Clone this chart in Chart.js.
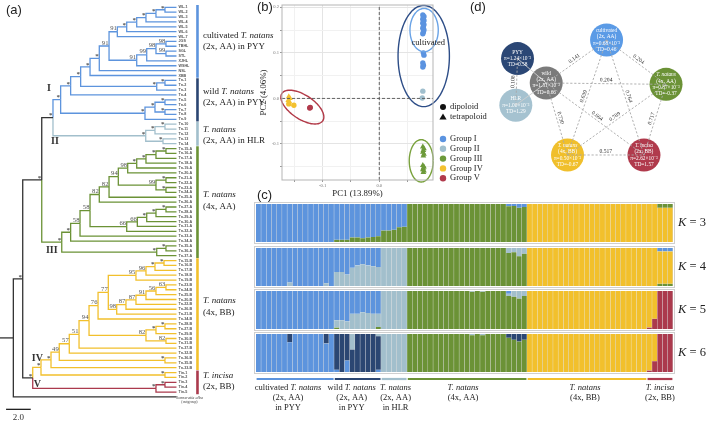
<!DOCTYPE html>
<html>
<head>
<meta charset="utf-8">
<title>Trapa population structure</title>
<script src="https://cdn.jsdelivr.net/npm/chart.js@4.4.1/dist/chart.umd.min.js"></script>
<style>
  html, body { margin: 0; padding: 0; background: #fff; }
  body { width: 709px; height: 422px; position: relative; overflow: hidden; }
  canvas { position: absolute; }
  .tag { position: absolute; font: 13px "Liberation Sans", Arial, sans-serif; color: #222; }
</style>
</head>
<body>
<canvas id="treeChart" width="275" height="422" style="left:0px;top:0px"></canvas>
<canvas id="k3Chart" width="455" height="42" style="left:254px;top:202px"></canvas>
<canvas id="k4Chart" width="455" height="42" style="left:254px;top:246px"></canvas>
<canvas id="k5Chart" width="455" height="42" style="left:254px;top:289px"></canvas>
<canvas id="k6Chart" width="455" height="90" style="left:254px;top:332px"></canvas>
<canvas id="pcaChart" width="242" height="200" style="left:258px;top:0px"></canvas>
<canvas id="netChart" width="239" height="195" style="left:470px;top:0px"></canvas>
<div class="tag" style="left:6px;top:2px">(a)</div>
<div class="tag" style="left:257px;top:-1px">(b)</div>
<div class="tag" style="left:257px;top:187px">(c)</div>
<div class="tag" style="left:470px;top:-1px">(d)</div>
<script>
Chart.defaults.font.family = "'Liberation Serif', 'Times New Roman', serif";
Chart.defaults.color = "#333";

const BLUE = "#5d94dd", LBLUE = "#a2bfcc", GREEN = "#6b9236", YELLOW = "#f2c02c", RED = "#ab3a4d", NAVY = "#2b4672";
const SERIF = "'Liberation Serif', 'Times New Roman', serif";

/* ========= populations (shared by tree brackets and structure plot) ========= */
const popFirst = [0, 15, 24, 29, 52, 75];
const popLast = [14, 23, 28, 51, 74, 79];
const popColor = [BLUE, NAVY, LBLUE, GREEN, YELLOW, RED];
const popTreeLine1 = ["cultivated _T. natans_", "wild _T. natans_", "_T. natans_", "_T. natans_", "_T. natans_", "_T. incisa_"];
const popTreeLine2 = ["(2x, AA) in PYY", "(2x, AA) in PYY", "(2x, AA) in HLR", "(4x, AA)", "(4x, BB)", "(2x, BB)"];
const popStructLabels = [
  ["cultivated _T. natans_", "(2x, AA)", "in PYY"],
  ["wild _T. natans_", "(2x, AA)", "in PYY"],
  ["_T. natans_", "(2x, AA)", "in HLR"],
  ["_T. natans_", "(4x, AA)"],
  ["_T. natans_", "(4x, BB)"],
  ["_T. incisa_", "(2x, BB)"]
];

/* ========= (a) tree: newick with node depth and support ========= */
const treeTipDepth = 14.29;
const cultNwk = "((((((WL-1,WL-2)*:13.36,WL-3)*:12.63,WL-4)*:11.82,WL-5)*:11.07,WL-6)*:10.26,WL-7)91:9.5";
const cultNwk2 = "((((JGS,TBHL)98:13.44,(SGL,STL)99:13.44)98:12.63,XJHL)99:11.88,WSHL)91:11.07";
const cladeINwk = "((((((" + cultNwk + "," + cultNwk2 + ")91:8.83,NSL)*:8.04,XBB)*:7.29,((Tn-1,Tn-2)*:13.36,Tn-3)*:12.69)*:6.53,Tn-4)*:5.72,(((Tn-5,Tn-6)*:13.36,(Tn-7,Tn-8)*:13.36)*:12.55,Tn-9)*:11.74)*:4.91";
const cladeIINwk = "(((Tn-10,Tn-11)*:13.36,Tn-12)*:12.55,(Tn-13,Tn-14)*:13.2)*:11.8";
const aaNwk1 = "(((((Tn-15-A,Tn-16-A)*:13.44,Tn-17-A)*:12.63,Tn-18-A)*:11.82,Tn-19-A)*:11.07,Tn-20-A)98:10.34";
const aaNwk2 = "((Tn-21-A,Tn-22-A)*:13.44,(Tn-23-A,Tn-24-A)*:13.44)99:12.63";
const aaNwk3 = "(((((Tn-27-A,Tn-28-A)*:13.44,Tn-29-A)*:12.63,Tn-30-A)*:11.88,Tn-31-A)66:11.12,Tn-32-A)66:10.26";
const cladeIIINwk = "(((((((" + aaNwk1 + "," + aaNwk2 + ")94:9.58,Tn-25-A)82:8.83,Tn-26-A)82:8.04," + aaNwk3 + ")58:7.29,Tn-33-A)58:6.48,Tn-34-A)*:5.72,((Tn-35-A,Tn-36-A)*:13.44,Tn-37-A)*:12.69)*:5.0";
const bbNwk1 = "((((Tn-15-B,Tn-16-B)*:13.28,Tn-17-B)*:12.55,Tn-18-B)96:11.82,Tn-19-B)95:11.01";
const bbNwk2 = "((((((Tn-23-B,Tn-24-B)63:13.44,Tn-25-B)56:12.63,Tn-20-B)91:11.82,Tn-22-B)87:11.01,Tn-26-B)87:10.2,Tn-21-B)98:9.45";
const bbNwk3 = "(((Tn-28-B,Tn-27-B)*:13.36,Tn-29-B)*:12.63,(Tn-30-B,Tn-31-B)82:13.44)82:11.82";
const cladeIVNwk = "((((((((" + bbNwk1 + "," + bbNwk2 + ")77:8.77,Tn-34-B)76:7.94," + bbNwk3 + ")94:7.21,Tn-37-B)51:6.4,Tn-32-B)57:5.61,(Tn-36-B,Tn-35-B)*:13.36)49:4.8,Tn-33-B)*:4.13,(Tin-1,Tin-2)*:13.36)*:3.32";
const cladeVNwk = "((Tin-3,Tin-4)*:13.36,Tin-5)*:12.63";
const treeNwk = "((((" + cladeINwk + "," + cladeIINwk + ")*:4.29," + cladeIIINwk + ")*:3.38,(" + cladeIVNwk + "," + cladeVNwk + ")*:2.65)*:1.84,Sonneratia alba):1.08";

const cladeNames = ["I", "II", "III", "IV", "V"];
const cladeFirst = [0, 24, 29, 52, 77];
const cladeLast = [23, 28, 51, 76, 79];
const cladeColor = [BLUE, LBLUE, GREEN, YELLOW, RED];
const scaleBarLen = 2.0;

/* ========= (b) PCA ========= */
const pcaIX = [0.077, 0.079, 0.078, 0.077, 0.079, 0.078, 0.077, 0.079, 0.078, 0.077, 0.079, 0.078, 0.077, 0.078, 0.079, 0.077, 0.078, 0.077];
const pcaIY = [0.183, 0.180, 0.177, 0.174, 0.171, 0.168, 0.165, 0.162, 0.158, 0.154, 0.150, 0.146, 0.142, 0.100, 0.095, 0.078, 0.073, 0.069];
const pcaIIX = [0.077, 0.076];
const pcaIIY = [0.016, 0.001];
const pcaIIIX = [0.077, 0.079, 0.078, 0.077, 0.079, 0.078, 0.077, 0.079, 0.078, 0.077, 0.079, 0.078];
const pcaIIIY = [-0.106, -0.110, -0.114, -0.118, -0.122, -0.126, -0.147, -0.150, -0.153, -0.156, -0.159, -0.162];
const pcaIVTriX = [-0.160, -0.158, -0.161, -0.159];
const pcaIVTriY = [0.004, 0.000, -0.004, -0.007];
const pcaIVDotX = [-0.160, -0.151];
const pcaIVDotY = [-0.012, -0.015];
const pcaVX = [-0.122, -0.123];
const pcaVY = [-0.020, -0.021];
const pcaGroupColor = ["#5b93e0", "#a0bfce", "#6d9a3a", "#f3c12f", "#b13a4c"];
const pcaGroupNames = ["Group I", "Group II", "Group III", "Group IV", "Group V"];
// confidence ellipses: centre, half widths, tilt
const ellCX = [-0.136, 0.0786, 0.0793, 0.0742];
const ellCY = [-0.019, 0.093, 0.150, -0.137];
const ellRX = [0.038, 0.0454, 0.025, 0.0212];
const ellRY = [0.030, 0.111, 0.0475, 0.0465];
const ellTilt = [-0.573, 0, 0, 0];
const ellColor = ["#b23a48", "#2d4d87", "#6aa3e6", "#7aa23e"];

/* ========= (c) STRUCTURE (% ancestry per individual) ========= */
// K = 3, bottom -> top: yellow, green, blue
const k3Yellow = [0,0,0,0,0, 0,0,0,0,0, 0,0,0,0,0,  0,0,0,0,0, 0,0,0,0,  0,0,0,0,0,
  0,0,0,0,0, 0,0,0,0,0, 0,0,0,0,0, 0,0,0,0,0, 0,0,0,
  100,100,100,100,100, 100,100,100,100,100, 100,100,100,100,100, 100,100,100,100,100, 100,100,100,
  100,100,90,90,90];
const k3Green = [0,0,0,0,0, 0,0,0,0,0, 0,0,0,0,0,  6,6,6,12,12, 10,12,13,15,  30,30,32,39,40,
  100,100,100,100,100, 100,100,100,100,100, 100,100,100,100,100, 100,100,100,100,94, 95,90,92,
  0,0,0,0,0, 0,0,0,0,0, 0,0,0,0,0, 0,0,0,0,0, 0,0,0,
  0,0,10,10,10];
const k3Blue = [100,100,100,100,100, 100,100,100,100,100, 100,100,100,100,100,  94,94,94,88,88, 90,88,87,85,  70,70,68,61,60,
  0,0,0,0,0, 0,0,0,0,0, 0,0,0,0,0, 0,0,0,0,6, 5,10,8,
  0,0,0,0,0, 0,0,0,0,0, 0,0,0,0,0, 0,0,0,0,0, 0,0,0,
  0,0,0,0,0];
// K = 4, bottom -> top: green, yellow, light blue, blue
const k4Green = [0,0,0,0,0, 0,0,0,0,0, 0,0,0,0,0,  0,0,0,0,0, 0,0,0,0,  0,0,0,0,0,
  100,100,100,100,100, 100,100,100,100,100, 100,100,100,100,100, 100,100,100,100,87, 89,78,85,
  0,0,0,0,0, 0,0,0,0,0, 0,0,0,0,0, 0,0,0,0,0, 0,0,0,
  0,0,6,6,6];
const k4Yellow = [0,0,0,0,0, 0,0,0,0,0, 0,0,0,0,0,  0,0,0,0,0, 0,0,0,0,  0,0,0,0,0,
  0,0,0,0,0, 0,0,0,0,0, 0,0,0,0,0, 0,0,0,0,0, 0,0,0,
  100,100,100,100,100, 100,100,100,100,100, 100,100,100,100,100, 100,100,100,100,100, 100,100,100,
  100,100,85,85,85];
const k4LightBlue = [0,0,0,0,0, 0,9,0,0,0, 0,0,0,7,0,  37,37,30,48,54, 57,54,52,50,  100,100,100,100,100,
  0,0,0,0,0, 0,0,0,0,0, 0,0,0,0,0, 0,0,0,0,13, 11,22,15,
  0,0,0,0,0, 0,0,0,0,0, 0,0,0,0,0, 0,0,0,0,0, 0,0,0,
  0,0,0,0,0];
const k4Blue = [100,100,100,100,100, 100,91,100,100,100, 100,100,100,93,100,  63,63,70,52,46, 43,46,48,50,  0,0,0,0,0,
  0,0,0,0,0, 0,0,0,0,0, 0,0,0,0,0, 0,0,0,0,0, 0,0,0,
  0,0,0,0,0, 0,0,0,0,0, 0,0,0,0,0, 0,0,0,0,0, 0,0,0,
  0,0,9,9,9];
// K = 5, bottom -> top: red, yellow, green, light blue, blue
const k5Red = [0,0,0,0,0, 0,0,0,0,0, 0,0,0,0,0,  0,0,0,0,0, 0,0,0,0,  0,0,0,0,0,
  0,0,0,0,0, 0,0,0,0,0, 0,0,0,0,0, 0,0,0,0,0, 0,0,0,
  0,0,0,0,0, 0,0,0,0,0, 0,0,0,0,0, 0,0,0,0,0, 0,0,0,
  4,27,100,100,100];
const k5Yellow = [0,0,0,0,0, 0,0,0,0,0, 0,0,0,0,0,  0,0,0,0,0, 0,0,0,0,  0,0,0,0,0,
  0,0,0,0,0, 0,0,0,0,0, 0,0,0,0,0, 0,0,0,0,0, 0,0,0,
  100,100,100,100,100, 100,100,100,100,100, 100,100,100,100,100, 100,100,100,100,100, 100,100,100,
  96,73,0,0,0];
const k5Green = [0,0,0,0,0, 0,0,0,0,0, 0,0,0,0,0,  4,0,0,0,0, 0,0,0,5,  0,0,0,0,0,
  100,100,100,100,100, 100,100,100,100,100, 100,100,98,100,98, 100,100,100,100,87, 85,80,87,
  0,0,0,0,0, 0,0,0,0,0, 0,0,0,0,0, 0,0,0,0,0, 0,0,0,
  0,0,0,0,0];
const k5LightBlue = [0,0,0,0,0, 0,0,0,0,0, 0,0,0,0,0,  19,23,20,40,40, 44,42,40,35,  100,100,100,100,100,
  0,0,0,0,0, 0,0,0,0,0, 0,0,2,0,2, 0,0,0,0,6, 15,20,13,
  0,0,0,0,0, 0,0,0,0,0, 0,0,0,0,0, 0,0,0,0,0, 0,0,0,
  0,0,0,0,0];
const k5Blue = [100,100,100,100,100, 100,100,100,100,100, 100,100,100,100,100,  77,77,80,60,60, 56,58,60,60,  0,0,0,0,0,
  0,0,0,0,0, 0,0,0,0,0, 0,0,0,0,0, 0,0,0,0,7, 0,0,0,
  0,0,0,0,0, 0,0,0,0,0, 0,0,0,0,0, 0,0,0,0,0, 0,0,0,
  0,0,0,0,0];
// K = 6, bottom -> top: red, yellow, green, blue, navy, light blue
const k6Red = [0,0,0,0,0, 0,0,0,0,0, 0,0,0,0,0,  0,0,0,0,0, 0,0,0,0,  0,0,0,0,0,
  0,0,0,0,0, 0,0,0,0,0, 0,0,0,0,0, 0,0,0,0,0, 0,0,0,
  0,0,0,0,0, 0,0,0,0,0, 0,0,0,0,0, 0,0,0,0,0, 0,0,0,
  4,28,100,100,100];
const k6Yellow = [0,0,0,0,0, 0,0,0,0,0, 0,0,0,0,0,  0,0,0,0,0, 0,0,0,0,  0,0,0,0,0,
  0,0,0,0,0, 0,0,0,0,0, 0,0,0,0,0, 0,0,0,0,0, 0,0,0,
  100,100,100,100,100, 100,100,100,100,100, 100,100,100,100,100, 100,100,100,100,100, 100,100,100,
  96,72,0,0,0];
const k6Green = [0,0,0,0,0, 0,0,0,0,0, 0,0,0,0,0,  0,0,0,0,0, 0,0,0,0,  0,0,0,0,0,
  100,100,100,100,100, 100,100,100,100,100, 100,100,97,100,97, 100,100,100,100,90, 85,80,85,
  0,0,0,0,0, 0,0,0,0,0, 0,0,0,0,0, 0,0,0,0,0, 0,0,0,
  0,0,0,0,0];
const k6Blue = [100,100,100,100,100, 100,78,100,100,100, 100,100,100,75,100,  6,0,30,0,0, 0,0,0,6,  0,0,0,0,0,
  0,0,0,0,0, 0,0,0,0,0, 0,0,0,0,0, 0,0,0,0,0, 0,0,0,
  0,0,0,0,0, 0,0,0,0,0, 0,0,0,0,0, 0,0,0,0,0, 0,0,0,
  0,0,0,0,0];
const k6Navy = [0,0,0,0,0, 0,22,0,0,0, 0,0,0,25,0,  94,100,70,59,100, 100,100,100,88,  0,0,0,0,0,
  0,0,0,0,0, 0,0,0,0,0, 0,0,0,0,0, 0,0,0,0,10, 15,20,15,
  0,0,0,0,0, 0,0,0,0,0, 0,0,0,0,0, 0,0,0,0,0, 0,0,0,
  0,0,0,0,0];
const k6LightBlue = [0,0,0,0,0, 0,0,0,0,0, 0,0,0,0,0,  0,0,0,41,0, 0,0,0,6,  100,100,100,100,100,
  0,0,0,0,0, 0,0,0,0,0, 0,0,3,0,3, 0,0,0,0,0, 0,0,0,
  0,0,0,0,0, 0,0,0,0,0, 0,0,0,0,0, 0,0,0,0,0, 0,0,0,
  0,0,0,0,0];

/* ========= (d) diversity network ========= */
const netX = [13.93, 3.6, 6.93, 20.83, 3.4, 9.4, 18.27];
const netY = [2.83, 5.07, 8.0, 8.17, 10.67, 16.67, 16.67];
const netColor = ["#5b9be6", "#2b4775", "#7b7b7b", "#6b9236", "#a5c2d0", "#f0bf2c", "#b03a4c"];
const netText = [
  ["cultivated", "(2x, AA)", "π=0.68×10⁻³", "TD=0.46"],
  ["PYY", "π=1.24×10⁻³", "TD=0.58"],
  ["wild", "(2x, AA)", "π=1.51×10⁻³", "TD=0.66"],
  ["_T. natans_", "(4x, AA)", "π=0.87×10⁻³", "TD=-0.37"],
  ["HLR", "π=1.00×10⁻³", "TD=1.29"],
  ["_T. natans_", "(4x, BB)", "π=0.50×10⁻³", "TD=-0.67"],
  ["_T. incisa_", "(2x, BB)", "π=2.62×10⁻³", "TD=1.57"]
];
const edgeFrom = [1, 4, 1, 2, 0, 2, 0, 0, 2, 3, 2, 3, 5];
const edgeTo   = [2, 2, 4, 0, 3, 3, 5, 6, 6, 5, 5, 6, 6];
const edgeFst  = ["", "", "0.108", "0.141", "0.204", "0.204", "0.639", "0.764", "0.664", "0.789", "0.730", "0.717", "0.517"];

/* ========= helpers ========= */
function drawRich(ctx, text, x, y, size, align, color, weight) {
  const parts = text.split("_");
  const fonts = parts.map((p, i) => (i % 2 ? "italic " : "") + (weight || "") + " " + size + "px " + SERIF);
  const widths = parts.map((p, i) => { ctx.font = fonts[i]; return ctx.measureText(p).width; });
  const total = widths.reduce((a, b) => a + b, 0);
  let cx = align === "center" ? x - total / 2 : align === "right" ? x - total : x;
  ctx.textAlign = "left";
  ctx.fillStyle = color;
  parts.forEach((p, i) => { ctx.font = fonts[i]; ctx.fillText(p, cx, y); cx += widths[i]; });
}

function parseNewick(s) {
  let i = 0;
  const tips = [];
  function node() {
    const n = { children: [], label: "", x: null };
    if (s[i] === "(") {
      i++;
      n.children.push(node());
      while (s[i] === ",") { i++; n.children.push(node()); }
      i++;
    }
    let tok = "";
    while (i < s.length && !",():".includes(s[i])) tok += s[i++];
    if (s[i] === ":") {
      i++;
      let num = "";
      while (i < s.length && !",()".includes(s[i])) num += s[i++];
      n.x = parseFloat(num);
    }
    if (n.children.length) n.label = tok;
    else { n.name = tok; n.tip = tips.length; tips.push(n); }
    return n;
  }
  return { root: node(), tips };
}

/* ========= (a) tree chart ========= */
const tree = parseNewick(treeNwk);
const internals = [];
function layout(n, parent) {
  n.parent = parent;
  if (!n.children.length) {
    n.y = n.tip; if (n.x == null) n.x = treeTipDepth; n.lo = n.hi = n.tip; return;
  }
  n.children.forEach(c => layout(c, n));
  n.y = (n.children[0].y + n.children[n.children.length - 1].y) / 2;
  n.lo = n.children[0].lo; n.hi = n.children[n.children.length - 1].hi;
  internals.push(n);
}
layout(tree.root, null);

function branchColor(n) {
  for (let g = 0; g < cladeFirst.length; g++) {
    if (n.lo >= cladeFirst[g] && n.hi <= cladeLast[g]) return cladeColor[g];
  }
  return "#333";
}

const treeSets = [];
function collect(n) {
  n.children.forEach(c => {
    treeSets.push({ data: [{ x: n.x, y: n.y }, { x: n.x, y: c.y }, { x: c.x, y: c.y }], borderColor: branchColor(c), borderWidth: 1.3 });
    collect(c);
  });
}
collect(tree.root);
treeSets.push({ data: [{ x: 0, y: tree.root.y }, { x: tree.root.x, y: tree.root.y }], borderColor: "#333", borderWidth: 1.3 });
const scaleBarY = 82.55, scaleBarX0 = 0.49;
treeSets.push({ data: [{ x: scaleBarX0, y: scaleBarY }, { x: scaleBarX0 + scaleBarLen, y: scaleBarY }], borderColor: "#222", borderWidth: 1.3 });
const bracketX = treeTipDepth + 1.7;
popFirst.forEach((f, g) => {
  treeSets.push({ data: [{ x: bracketX, y: f - 0.45 }, { x: bracketX, y: popLast[g] + 0.45 }], borderColor: popColor[g], borderWidth: 2.6 });
});
treeSets.forEach(d => { d.showLine = true; d.pointRadius = 0; d.fill = false; d.tension = 0; });

const cladeLabelDx = [-4, 2, 10, 4.6, 4.6];
const cladeLabelDy = [-11.5, 6, 8, -9, -4];
const bracketLabelDy = [0, -2.5, 1.5, -1, -7, -1];

const treeTextPlugin = {
  id: "treeText",
  afterDatasetsDraw(chart) {
    const { ctx, scales: { x, y } } = chart;
    ctx.save();
    ctx.textBaseline = "middle";
    // tip labels
    ctx.font = "bold 3.7px 'Liberation Sans', sans-serif";
    ctx.fillStyle = "#555";
    ctx.textAlign = "left";
    tree.tips.forEach(t => {
      if (t.tip < 80) ctx.fillText(t.name, x.getPixelForValue(t.x) + 2, y.getPixelForValue(t.y));
    });
    const og = tree.tips[80];
    drawRich(ctx, "_" + og.name + "_", x.getPixelForValue(og.x) + 13, y.getPixelForValue(og.y) + 0.5, 4.2, "center", "#444");
    drawRich(ctx, "(outgroup)", x.getPixelForValue(og.x) + 13, y.getPixelForValue(og.y) + 4.6, 3.8, "center", "#444");
    // support values
    ctx.textBaseline = "alphabetic";
    internals.forEach(n => {
      if (!n.label) return;
      ctx.font = (n.label === "*" ? "bold 7px " : "6.6px ") + SERIF;
      ctx.fillStyle = "#555";
      ctx.textAlign = "right";
      ctx.fillText(n.label, x.getPixelForValue(n.x) - 0.6, y.getPixelForValue(n.y) - (n.label === "*" ? 0.2 : 1.3));
    });
    // clade names
    ctx.textBaseline = "middle";
    cladeNames.forEach((name, g) => {
      const n = internals.find(m => m.lo === cladeFirst[g] && m.hi === cladeLast[g]);
      if (!n) return;
      const px = x.getPixelForValue(n.parent.x) + cladeLabelDx[g];
      const py = y.getPixelForValue(n.y) + cladeLabelDy[g];
      drawRich(ctx, name, px, py, 10, "center", "#333", "bold");
    });
    // bracket labels
    popFirst.forEach((f, g) => {
      const cy = (y.getPixelForValue(f) + y.getPixelForValue(popLast[g])) / 2 + bracketLabelDy[g];
      const lx = x.getPixelForValue(bracketX) + 5.5;
      drawRich(ctx, popTreeLine1[g], lx, cy - 6, 9, "left", "#222");
      drawRich(ctx, popTreeLine2[g], lx, cy + 5.5, 9, "left", "#222");
    });
    // scale bar label
    drawRich(ctx, scaleBarLen.toFixed(1), x.getPixelForValue(scaleBarX0 + scaleBarLen / 2), y.getPixelForValue(scaleBarY) + 8.5, 9, "center", "#333");
    ctx.restore();
  }
};

new Chart(document.getElementById("treeChart"), {
  type: "scatter",
  data: { datasets: treeSets },
  options: {
    responsive: false, animation: false, devicePixelRatio: 1,
    layout: { padding: 0 },
    plugins: { legend: { display: false }, tooltip: { enabled: false } },
    scales: {
      x: { display: false, min: 0, max: 275 / 12.35 },
      y: { display: false, reverse: true, min: -1.5, max: 85.15 }
    }
  },
  plugins: [treeTextPlugin]
});

/* ========= (c) structure charts ========= */
const sampleIds = tree.tips.slice(0, 80).map(t => t.name);
const structLabelShift = [-7, -6, 1.5, -4, -2, 0];

const structPlugin = {
  id: "structDecor",
  afterDraw(chart) {
    const { ctx, chartArea: a } = chart;
    const opts = chart.options.plugins.structDecor;
    ctx.save();
    ctx.strokeStyle = "#cfcfcf";
    ctx.lineWidth = 1;
    ctx.strokeRect(a.left - 1.5, a.top - 1.5, a.right - a.left + 3, a.bottom - a.top + 3);
    // K label
    const ky = (a.top + a.bottom) / 2;
    ctx.textBaseline = "middle";
    drawRich(ctx, "_K_ = " + opts.k, a.right + 19, ky, 12.5, "center", "#222");
    if (opts.last) {
      const w = (a.right - a.left) / sampleIds.length;
      popFirst.forEach((f, g) => {
        const x0 = a.left + f * w + 0.6, x1 = a.left + (popLast[g] + 1) * w - 0.6;
        ctx.strokeStyle = popColor[g];
        ctx.lineWidth = 2.2;
        ctx.beginPath(); ctx.moveTo(x0, a.bottom + 7); ctx.lineTo(x1, a.bottom + 7); ctx.stroke();
        const cx = (x0 + x1) / 2 + structLabelShift[g];
        popStructLabels[g].forEach((line, j) => drawRich(ctx, line, cx, a.bottom + 15.5 + j * 10, 8.5, "center", "#222"));
      });
    }
    ctx.restore();
  }
};

function structChart(id, k, comps, colors, last) {
  new Chart(document.getElementById(id), {
    type: "bar",
    data: {
      labels: sampleIds,
      datasets: comps.map((d, i) => ({
        data: d, backgroundColor: colors[i],
        borderColor: "rgba(30,30,30,0.16)", borderWidth: { left: 0, right: 0.7, top: 0, bottom: 0 },
        borderSkipped: false, barPercentage: 1, categoryPercentage: 1
      }))
    },
    options: {
      responsive: false, animation: false, devicePixelRatio: 1,
      layout: { padding: { left: 2, right: 36, top: 2, bottom: last ? 50 : 2 } },
      plugins: { legend: { display: false }, tooltip: { enabled: false }, structDecor: { k: k, last: last } },
      scales: {
        x: { stacked: true, display: false },
        y: { stacked: true, display: false, min: 0, max: 100 }
      }
    },
    plugins: [structPlugin]
  });
}
structChart("k3Chart", 3, [k3Yellow, k3Green, k3Blue], [YELLOW, GREEN, BLUE], false);
structChart("k4Chart", 4, [k4Green, k4Yellow, k4LightBlue, k4Blue], [GREEN, YELLOW, LBLUE, BLUE], false);
structChart("k5Chart", 5, [k5Red, k5Yellow, k5Green, k5LightBlue, k5Blue], [RED, YELLOW, GREEN, LBLUE, BLUE], false);
structChart("k6Chart", 6, [k6Red, k6Yellow, k6Green, k6Blue, k6Navy, k6LightBlue], [RED, YELLOW, GREEN, BLUE, NAVY, LBLUE], true);

/* ========= (b) PCA chart ========= */
const pcaXMin = -0.172, pcaXMax = 0.095, pcaYMin = -0.179, pcaYMax = 0.205;
function zip(xs, ys) { return xs.map((v, i) => ({ x: v, y: ys[i] })); }
function ellipsePts(cx, cy, rx, ry, tilt) {
  const pts = [];
  for (let a = 0; a <= 360; a += 4) {
    const t = a * Math.PI / 180;
    const dx = rx * Math.cos(t);
    pts.push({ x: cx + dx, y: cy + ry * Math.sin(t) + tilt * dx });
  }
  return pts;
}
const pcaSets = [];
pcaSets.push({ data: [{ x: 0, y: pcaYMin }, { x: 0, y: pcaYMax }], showLine: true, pointRadius: 0, borderColor: "#555", borderWidth: 0.9, borderDash: [3, 2] });
pcaSets.push({ data: [{ x: pcaXMin, y: 0 }, { x: pcaXMax, y: 0 }], showLine: true, pointRadius: 0, borderColor: "#555", borderWidth: 0.9, borderDash: [3, 2] });
ellCX.forEach((cx, i) => pcaSets.push({
  data: ellipsePts(cx, ellCY[i], ellRX[i], ellRY[i], ellTilt[i]),
  showLine: true, pointRadius: 0, borderColor: ellColor[i], borderWidth: 1.4, clip: false, tension: 0.3
}));
function pts(xs, ys, color, style) {
  return { data: zip(xs, ys), pointStyle: style, pointRadius: style === "triangle" ? 3.3 : 2.7, backgroundColor: color, borderWidth: 0, showLine: false, clip: false };
}
pcaSets.push(pts(pcaIX, pcaIY, pcaGroupColor[0], "circle"));
pcaSets.push(pts(pcaIIX, pcaIIY, pcaGroupColor[1], "circle"));
pcaSets.push(pts(pcaIIIX, pcaIIIY, pcaGroupColor[2], "triangle"));
pcaSets.push(pts(pcaIVTriX, pcaIVTriY, pcaGroupColor[3], "triangle"));
pcaSets.push(pts(pcaIVDotX, pcaIVDotY, pcaGroupColor[3], "circle"));
pcaSets.push(pts(pcaVX, pcaVY, pcaGroupColor[4], "circle"));

const cultLabelX = 0.0866, cultLabelY = 0.1224;
const pcaPlugin = {
  id: "pcaDecor",
  afterDatasetsDraw(chart) {
    const { ctx, chartArea: a, scales: { x, y } } = chart;
    ctx.save();
    ctx.strokeStyle = "#b5b5b5";
    ctx.lineWidth = 1;
    ctx.strokeRect(a.left, a.top, a.right - a.left, a.bottom - a.top);
    ctx.textBaseline = "middle";
    drawRich(ctx, "cultivated", x.getPixelForValue(cultLabelX), y.getPixelForValue(cultLabelY), 8.5, "center", "#222");
    // legend
    const lx = a.right + 10, tx = a.right + 17;
    ctx.fillStyle = "#111";
    ctx.beginPath(); ctx.arc(lx, a.top + 102, 3, 0, Math.PI * 2); ctx.fill();
    drawRich(ctx, "dipoloid", tx, a.top + 102, 8.5, "left", "#222");
    ctx.fillStyle = "#111";
    ctx.beginPath(); ctx.moveTo(lx, a.top + 108.5); ctx.lineTo(lx + 3.6, a.top + 114.5); ctx.lineTo(lx - 3.6, a.top + 114.5); ctx.closePath(); ctx.fill();
    drawRich(ctx, "tetrapoloid", tx, a.top + 112, 8.5, "left", "#222");
    pcaGroupNames.forEach((nm, i) => {
      const gy = a.top + 134 + i * 9.8;
      ctx.fillStyle = pcaGroupColor[i];
      ctx.beginPath(); ctx.arc(lx, gy, 3.2, 0, Math.PI * 2); ctx.fill();
      drawRich(ctx, nm, tx, gy, 8.5, "left", "#222");
    });
    ctx.restore();
  }
};
const tickLabel = v => (Math.abs(Math.round(v * 20)) % 2 === 0 ? v.toFixed(1) : "");
const gridColor = c => (c.tick && Math.abs(Math.round(c.tick.value * 20)) % 2 === 0 ? "#e4e4e4" : "#f1f1f1");
new Chart(document.getElementById("pcaChart"), {
  type: "scatter",
  data: { datasets: pcaSets },
  options: {
    responsive: false, animation: false, devicePixelRatio: 1,
    layout: { padding: { left: 0, right: 67, top: 5, bottom: 0 } },
    plugins: { legend: { display: false }, tooltip: { enabled: false } },
    scales: {
      x: {
        min: pcaXMin, max: pcaXMax,
        afterFit: s => { s.height = 20; },
        ticks: { stepSize: 0.05, includeBounds: false, callback: tickLabel, font: { size: 4.6 }, color: "#777", padding: 1, maxRotation: 0 },
        grid: { color: gridColor, tickLength: 2, tickColor: "#999" },
        border: { display: false },
        title: { display: true, text: "PC1 (13.89%)", font: { size: 8.8 }, color: "#222", padding: { top: 0, bottom: 1 } }
      },
      y: {
        min: pcaYMin, max: pcaYMax,
        afterFit: s => { s.width = 24; },
        ticks: { stepSize: 0.05, includeBounds: false, callback: tickLabel, font: { size: 4.6 }, color: "#777", padding: 1 },
        grid: { color: gridColor, tickLength: 2, tickColor: "#999" },
        border: { display: false },
        title: { display: true, text: "PC2 (4.06%)", font: { size: 8.8 }, color: "#222", padding: { top: 0, bottom: 1 } }
      }
    }
  },
  plugins: [pcaPlugin]
});

/* ========= (d) network chart ========= */
const netSets = edgeFrom.map((a, i) => ({
  data: [{ x: netX[a], y: netY[a] }, { x: netX[edgeTo[i]], y: netY[edgeTo[i]] }],
  showLine: true, pointRadius: 0,
  borderColor: edgeFst[i] ? "#a8a8a8" : "#cfcfcf", borderWidth: 0.9,
  borderDash: edgeFst[i] ? [2.2, 1.8] : []
}));
netSets.push({ data: zip(netX, netY), pointRadius: 16.5, backgroundColor: netColor, borderWidth: 0, showLine: false, clip: false });

const netPlugin = {
  id: "netText",
  afterDatasetsDraw(chart) {
    const { ctx, scales: { x, y } } = chart;
    ctx.save();
    ctx.textBaseline = "middle";
    edgeFrom.forEach((a, i) => {
      if (!edgeFst[i]) return;
      const b = edgeTo[i];
      let xa = x.getPixelForValue(netX[a]), ya = y.getPixelForValue(netY[a]);
      let xb = x.getPixelForValue(netX[b]), yb = y.getPixelForValue(netY[b]);
      if (xb < xa) { [xa, xb] = [xb, xa]; [ya, yb] = [yb, ya]; }
      const ang = Math.atan2(yb - ya, xb - xa);
      ctx.save();
      ctx.translate((xa + xb) / 2, (ya + yb) / 2);
      ctx.rotate(ang);
      drawRich(ctx, edgeFst[i], 0, -3.6, 5.6, "center", "#333");
      ctx.restore();
    });
    netText.forEach((lines, i) => {
      const cx = x.getPixelForValue(netX[i]), cy = y.getPixelForValue(netY[i]);
      const top = cy - (lines.length - 1) * 6.2 / 2;
      lines.forEach((ln, j) => drawRich(ctx, ln, cx, top + j * 6.2, 5.4, "center", "#fff"));
    });
    ctx.restore();
  }
};
new Chart(document.getElementById("netChart"), {
  type: "scatter",
  data: { datasets: netSets },
  options: {
    responsive: false, animation: false, devicePixelRatio: 1,
    layout: { padding: 0 },
    plugins: { legend: { display: false }, tooltip: { enabled: false } },
    scales: {
      x: { display: false, min: 0, max: 23.9 },
      y: { display: false, reverse: true, min: 0, max: 19.5 }
    }
  },
  plugins: [netPlugin]
});
</script>
</body>
</html>
